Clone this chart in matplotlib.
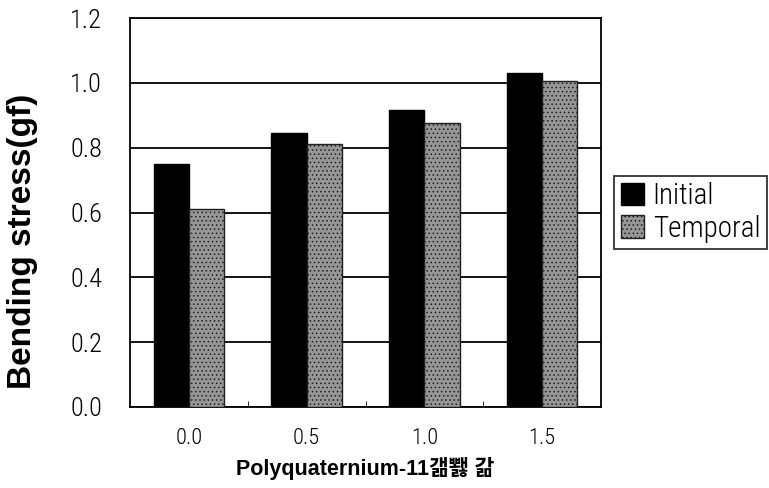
import numpy as np
import matplotlib
matplotlib.use("Agg")
import matplotlib.pyplot as plt
from matplotlib import font_manager

# data
categories = ["0.0", "0.5", "1.0", "1.5"]
initial = [0.75, 0.845, 0.915, 1.03]
temporal = [0.61, 0.81, 0.875, 1.005]

# narrow font for ticks / legend, if one is around
names = {f.name for f in font_manager.fontManager.ttflist}
narrow_name = None
for n in ["Liberation Sans Narrow", "DejaVu Sans Condensed", "Roboto Condensed",
          "Open Sans Condensed"]:
    if n in names:
        narrow_name = n
        break
narrow = dict(family=[narrow_name or "DejaVu Sans", "DejaVu Sans"],
              stretch="condensed", weight="light")

plt.rcParams["hatch.linewidth"] = 0.6
plt.rcParams["hatch.color"] = "#4a4a4a"

fig = plt.figure(figsize=(7.69, 4.88), dpi=100)
ax = fig.add_axes([130/769, 1 - 407/488, 471/769, 389/488])

x = np.arange(len(categories))
w = 0.3
ax.bar(x - w/2, initial, width=w, color="black", edgecolor="black",
       linewidth=1, zorder=3, label="Initial")
ax.bar(x + w/2, temporal, width=w, facecolor="#969696", edgecolor="#202020",
       hatch="....", linewidth=1, zorder=3, label="Temporal")

ax.set_xlim(-0.5, len(categories) - 0.5)
ax.set_ylim(0, 1.2)
yt = np.arange(0, 1.21, 0.2)
ax.set_yticks(yt)
ax.set_yticklabels([f"{v:.1f}" for v in yt], fontsize=19, **narrow)
ax.set_xticks(x)
ax.set_xticklabels(categories, fontsize=16, **narrow)
ax.set_xticks(np.arange(0.5, len(categories) - 0.5, 1), minor=True)
ax.tick_params(axis="y", length=0, pad=20)
ax.tick_params(axis="x", which="major", length=0, pad=15)
ax.tick_params(axis="x", which="minor", length=4, direction="in")

ax.grid(axis="y", color="black", linewidth=1.3, zorder=0)
ax.set_axisbelow(True)
for s in ax.spines.values():
    s.set_linewidth(1.3)
    s.set_color("black")

ax.set_ylabel("Bending stress(gf)", family=["Liberation Sans", "DejaVu Sans"],
              fontweight="bold", fontsize=24)
ax.yaxis.set_label_coords(-0.196, 0.427)
ax.set_xlabel("Polyquaternium-11갦뾇 갊",
              family=["Liberation Sans", "Noto Sans CJK KR", "DejaVu Sans"],
              fontweight="bold", fontsize=15.5, labelpad=6)

leg = ax.legend(loc="center left", bbox_to_anchor=(1.028, 0.5),
                prop=dict(size=21, **narrow), frameon=True,
                fancybox=False, edgecolor="black", handlelength=0.8,
                handleheight=0.8, handletextpad=0.3, borderpad=0.22,
                labelspacing=0.15, borderaxespad=0)
leg.get_frame().set_linewidth(1.3)

fig.savefig("out.png", dpi=100)
